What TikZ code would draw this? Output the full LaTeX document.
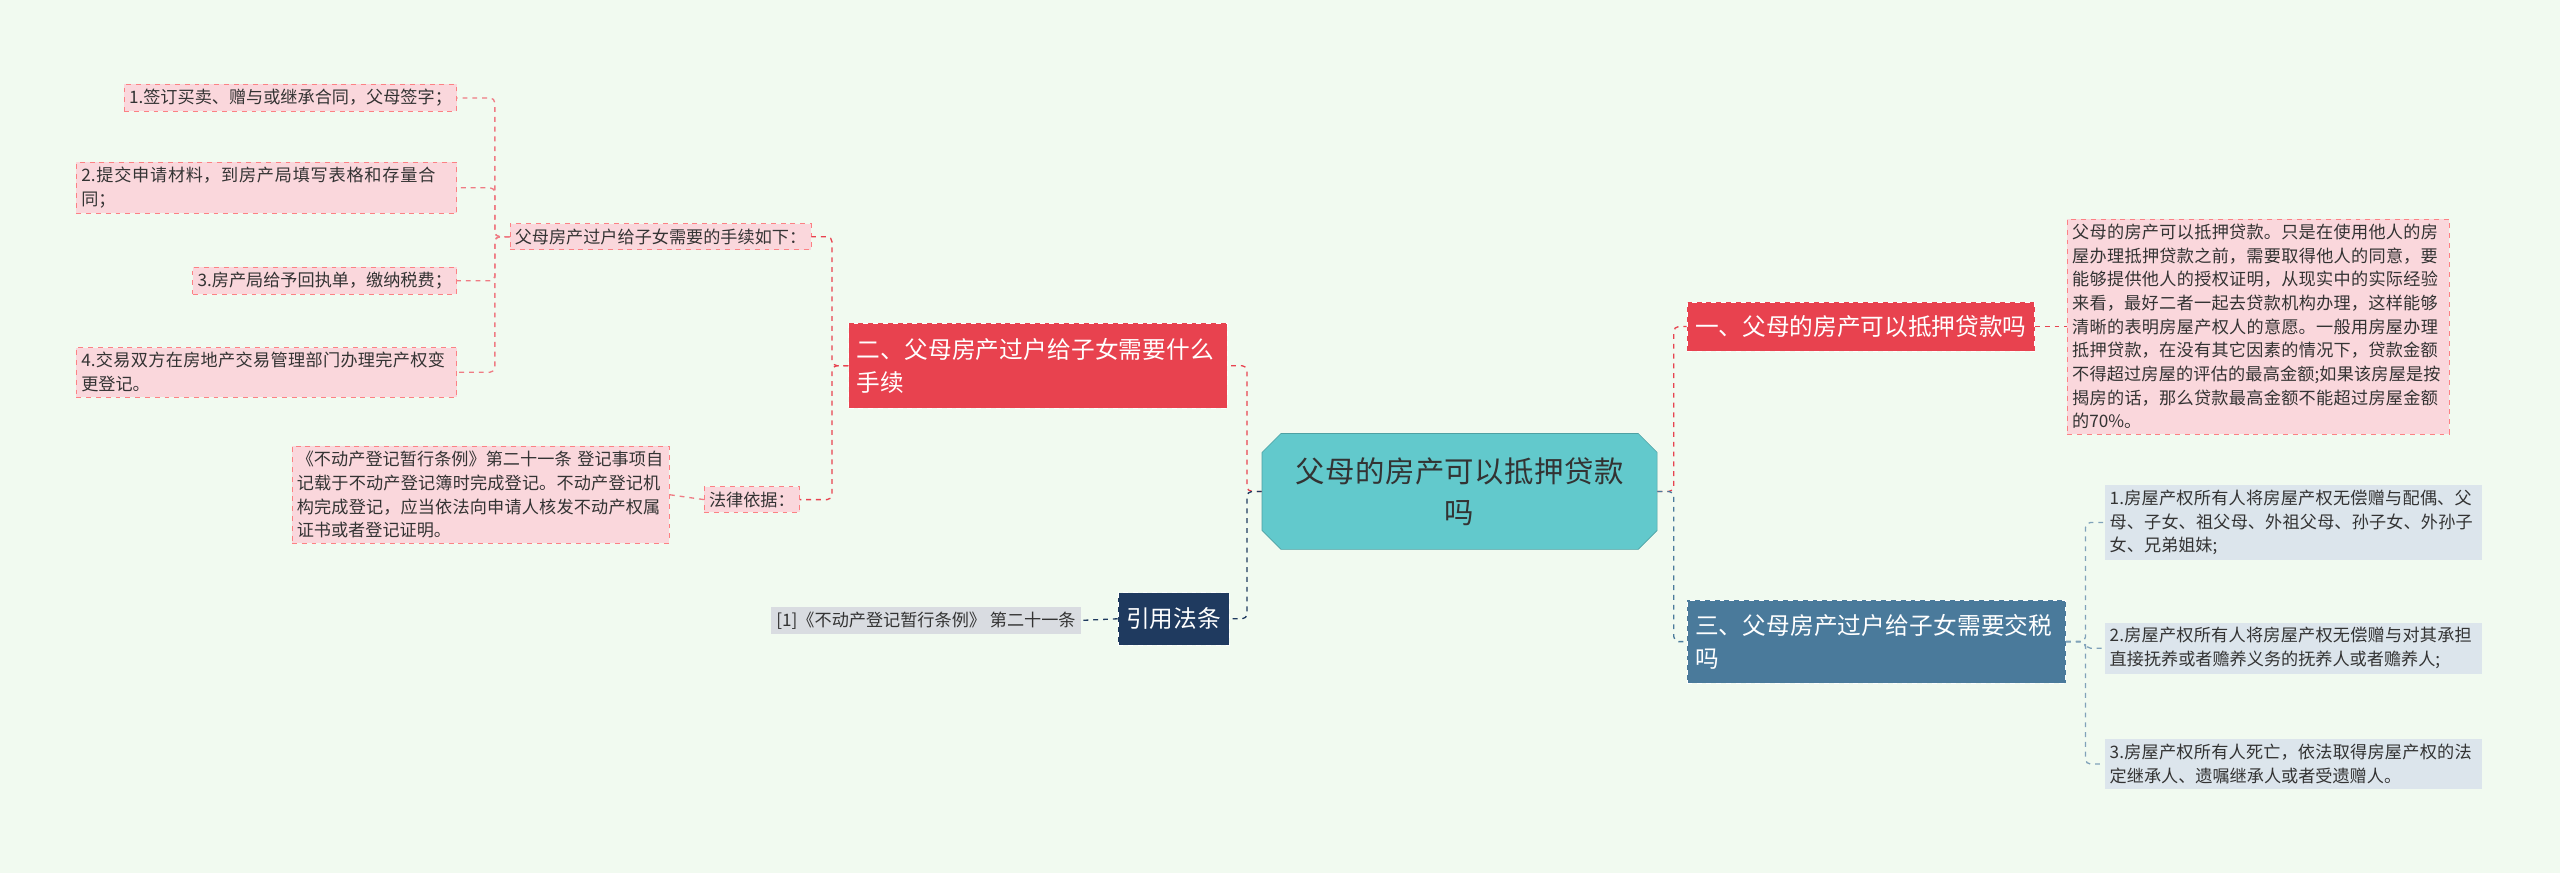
\documentclass[tikz,border=0pt]{standalone}
\usepackage{fontspec}
\setmainfont{Noto Sans CJK SC}
\XeTeXlinebreaklocale "zh"
\XeTeXlinebreakskip=0pt plus 1pt
\usetikzlibrary{shapes.misc}
\definecolor{bg}{HTML}{F1FAF0}
\definecolor{cred}{HTML}{E8424F}
\definecolor{cpink}{HTML}{FAD7DC}
\definecolor{cblue}{HTML}{4A7A9B}
\definecolor{cgb}{HTML}{DCE5EC}
\definecolor{cnavy}{HTML}{1F3A5F}
\definecolor{cgray}{HTML}{D9DCE1}
\definecolor{cteal}{HTML}{62C9CC}
\definecolor{txt}{HTML}{333333}
\tikzset{
 small/.style={font=\fontsize{10.5}{14.5}\selectfont, text=txt, inner sep=3pt, align=left},
 pk/.style={small, fill=cpink, draw=cpink!60!red, dashed, line width=0.4pt},
 gb/.style={small, fill=cgb},
 big/.style={font=\fontsize{14.5}{20}\selectfont, text=white, inner sep=5pt, align=left, draw=white, dashed},
 lr/.style={draw=cred, dashed, line width=0.8pt, rounded corners=3pt},
 lb/.style={draw=cblue, dashed, line width=0.8pt, rounded corners=3pt},
 ln/.style={draw=cnavy, dashed, line width=0.8pt, rounded corners=3pt},
}
\begin{document}
\begin{tikzpicture}[x=1pt,y=-1pt]
\fill[bg] (0,0) rectangle (1568,535);
\useasboundingbox (0,0) rectangle (1568,535);
% center
\node[chamfered rectangle, chamfered rectangle xsep=8pt, fill=cteal, draw=cteal!80!black, minimum width=242pt, minimum height=71pt, text width=220pt, align=center, font=\fontsize{18}{25}\selectfont, text=txt, inner sep=2pt] (c) at (894,301) {父母的房产可以抵押贷款\\吗};
% right
\node[big, fill=cred, anchor=west, minimum height=30pt] (r1) at (1033,200) {一、父母的房产可以抵押贷款吗};
\node[pk, anchor=west, text width=228pt] (r1d) at (1266,200) {父母的房产可以抵押贷款。只是在使用他人的房屋办理抵押贷款之前，需要取得他人的同意，要能够提供他人的授权证明，从现实中的实际经验来看，最好二者一起去贷款机构办理，这样能够清晰的表明房屋产权人的意愿。一般用房屋办理抵押贷款，在没有其它因素的情况下，贷款金额不得超过房屋的评估的最高金额;如果该房屋是按揭房的话，那么贷款最高金额不能超过房屋金额的70\%。};
\node[big, fill=cblue, anchor=west, text width=222pt, minimum height=51pt] (r2) at (1033,393) {三、父母房产过户给子女需要交税吗};
\node[gb, anchor=west, text width=225pt] (r2a) at (1289,320) {1.房屋产权所有人将房屋产权无偿赠与配偶、父母、子女、祖父母、外祖父母、孙子女、外孙子女、兄弟姐妹;};
\node[gb, anchor=west, text width=225pt] (r2b) at (1289,397) {2.房屋产权所有人将房屋产权无偿赠与对其承担直接抚养或者赡养义务的抚养人或者赡养人;};
\node[gb, anchor=west, text width=225pt] (r2c) at (1289,468) {3.房屋产权所有人死亡，依法取得房屋产权的法定继承人、遗嘱继承人或者受遗赠人。};
% left
\node[big, fill=cred, anchor=east, text width=222pt, minimum height=52pt] (l1) at (752,224) {二、父母房产过户给子女需要什么手续};
\node[pk, anchor=east] (l1a) at (497,145) {父母房产过户给子女需要的手续如下：};
\node[pk, anchor=east] (p1) at (280,60) {1.签订买卖、赠与或继承合同，父母签字；};
\node[pk, anchor=east, text width=227pt] (p2) at (280,115) {2.提交申请材料，到房产局填写表格和存量合同；};
\node[pk, anchor=east] (p3) at (280,172) {3.房产局给予回执单，缴纳税费；};
\node[pk, anchor=east, text width=227pt] (p4) at (280,228) {4.交易双方在房地产交易管理部门办理完产权变更登记。};
\node[pk, anchor=east] (l1b) at (490,306) {法律依据：};
\node[pk, anchor=east, text width=225pt] (lb1) at (410,303) {《不动产登记暂行条例》第二十一条 登记事项自记载于不动产登记簿时完成登记。不动产登记机构完成登记，应当依法向申请人核发不动产权属证书或者登记证明。};
\node[big, fill=cnavy, anchor=east, minimum height=32pt] (l2) at (753,379) {引用法条};
\node[small, fill=cgray, anchor=east] (l2a) at (662,380) {[1]《不动产登记暂行条例》 第二十一条};
% connectors
\draw[lr] (c.west) -- ++(-9,0) |- (l1.east);
\draw[ln] (c.west) -- ++(-9,0) |- (l2.east);
\draw[lr] (c.east) -- ++(10,0) |- (r1.west);
\draw[lb] (c.east) -- ++(10,0) |- (r2.west);
\draw[lr] (r1.east) -- (r1d.west);
\foreach \t in {r2a,r2b,r2c} \draw[lb, draw=cblue!70] (r2.east) -- ++(12,0) |- (\t.west);
\foreach \t in {l1a,l1b} \draw[lr] (l1.west) -- ++(-10,0) |- (\t.east);
\foreach \t in {p1,p2,p3,p4} \draw[lr, draw=cred!70] (l1a.west) -- ++(-9,0) |- (\t.east);
\draw[lr, draw=cred!70] (l1b.west) -- (lb1.east);
\draw[ln] (l2.west) -- (l2a.east);
\end{tikzpicture}
\end{document}
